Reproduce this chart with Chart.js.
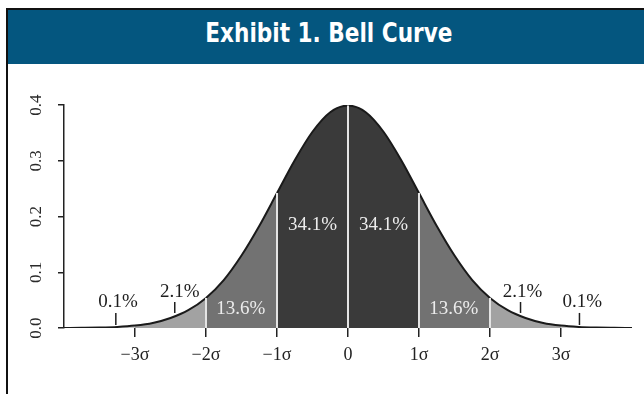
<!DOCTYPE html>
<html>
<head>
<meta charset="utf-8">
<script src="https://cdn.jsdelivr.net/npm/chart.js@4.4.0/dist/chart.umd.min.js"></script>
<style>
  html, body { margin: 0; padding: 0; background: #fff; width: 644px; height: 394px; overflow: hidden; }
  #frame { position: absolute; left: 6px; top: 8px; width: 2px; height: 386px; background: #111; }
  #header {
    position: absolute; left: 8px; top: 8px; width: 636px; height: 56px;
    background: #04567f; border-top: 2px solid #111; box-sizing: border-box;
    text-align: center; line-height: 54px;
  }
  #header span {
    display: inline-block; position: relative; left: 3px;
    color: #fff; font: bold 27px "Liberation Sans Narrow", "DejaVu Sans Condensed", sans-serif;
    transform: scaleX(0.89);
  }
  #wrap { position: absolute; left: 9px; top: 66px; width: 635px; height: 328px; }
</style>
</head>
<body>
<div id="frame"></div>
<div id="header"><span>Exhibit 1. Bell Curve</span></div>
<div id="wrap"><canvas id="BellChart"></canvas></div>
<script>
// curve, every quarter sigma
const sigmaX = [-4, -3.75, -3.5, -3.25, -3, -2.75, -2.5, -2.25, -2, -1.75, -1.5, -1.25, -1, -0.75, -0.5, -0.25,
    0, 0.25, 0.5, 0.75, 1, 1.25, 1.5, 1.75, 2, 2.25, 2.5, 2.75, 3, 3.25, 3.5, 3.75, 4];
const density = [0.0001, 0.0004, 0.0009, 0.002, 0.0044, 0.009, 0.018, 0.032, 0.054, 0.086, 0.130, 0.183, 0.242, 0.301, 0.352, 0.387,
    0.399, 0.387, 0.352, 0.301, 0.242, 0.183, 0.130, 0.086, 0.054, 0.032, 0.018, 0.009, 0.0044, 0.002, 0.0009, 0.0004, 0.0001];

const xTicks = [-3, -2, -1, 0, 1, 2, 3];
const xTickLabels = ['\u22123\u03c3', '\u22122\u03c3', '\u22121\u03c3', '0', '1\u03c3', '2\u03c3', '3\u03c3'];
const yTicks = [0, 0.1, 0.2, 0.3, 0.4];
const yTickLabels = ['0.0', '0.1', '0.2', '0.3', '0.4'];

// white lines between the bands
const dividerX = [-2, -1, 0, 1, 2];

// little pointer marks under the tail labels
const pointerX = [-3.27, -2.44, 2.43, 3.26];
const pointerLow = [0.0054, 0.027, 0.027, 0.0054];
const pointerHigh = [0.027, 0.0466, 0.0466, 0.027];

const pctLabels = ['0.1%', '2.1%', '13.6%', '34.1%', '34.1%', '13.6%', '2.1%', '0.1%'];
const pctX = [-3.24, -2.37, -1.51, -0.50, 0.50, 1.49, 2.46, 3.30];
const pctY = [0.047, 0.065, 0.034, 0.185, 0.185, 0.034, 0.065, 0.047];

const bandColors = ['#3a3a3a', '#727272', '#a2a2a2', '#c6c6c6'];

const curvePoints = sigmaX.map((x, i) => ({x: x, y: density[i]}));

let datasets = [];

dividerX.forEach(v => {
    datasets.push({
        data: [{x: v, y: 0}, {x: v, y: density[sigmaX.indexOf(v)]}],
        borderColor: '#e4e4e4',
        borderWidth: 2,
        pointRadius: 0,
        fill: false
    });
});

pointerX.forEach((v, i) => {
    datasets.push({
        data: [{x: v, y: pointerLow[i]}, {x: v, y: pointerHigh[i]}],
        borderColor: '#1e1e1e',
        borderWidth: 1.5,
        pointRadius: 0,
        fill: false
    });
});

datasets.push({
    data: curvePoints,
    borderColor: '#1a1a1a',
    borderWidth: 2,
    pointRadius: 0,
    cubicInterpolationMode: 'monotone',
    fill: 'origin',
    backgroundColor: bandColors[0],
    segment: {
        backgroundColor: ctx => {
            let m = Math.abs((ctx.p0.parsed.x + ctx.p1.parsed.x) / 2);
            if (m < 1) return bandColors[0];
            if (m < 2) return bandColors[1];
            if (m < 3) return bandColors[2];
            return bandColors[3];
        }
    }
});

const labelPlugin = {
    id: 'bellLabels',
    afterDatasetsDraw(chart) {
        const ctx = chart.ctx;
        const xs = chart.scales.x;
        const ys = chart.scales.y;
        ctx.save();
        ctx.textAlign = 'center';
        ctx.textBaseline = 'middle';
        ctx.font = '19px "Liberation Serif", "Times New Roman", serif';
        pctLabels.forEach((t, i) => {
            let inside = Math.abs(pctX[i]) < 2;
            ctx.fillStyle = inside ? '#ececec' : '#1e1e1e';
            ctx.fillText(t, xs.getPixelForValue(pctX[i]), ys.getPixelForValue(pctY[i]));
        });
        // rotated y tick labels
        ctx.fillStyle = '#2a2a2a';
        ctx.font = '17px "Liberation Serif", "Times New Roman", serif';
        yTicks.forEach((v, i) => {
            ctx.save();
            ctx.translate(28, ys.getPixelForValue(v));
            ctx.rotate(-Math.PI / 2);
            ctx.fillText(yTickLabels[i], 0, 0);
            ctx.restore();
        });
        ctx.restore();
    }
};

const config_bell = {
    type: 'line',
    data: {datasets: datasets},
    plugins: [labelPlugin],
    options: {
        animation: false,
        responsive: true,
        maintainAspectRatio: false,
        layout: {padding: {left: 0, right: 12, top: 39, bottom: 0}},
        plugins: {
            legend: {display: false},
            tooltip: {enabled: false}
        },
        scales: {
            x: {
                type: 'linear',
                min: -4,
                max: 4,
                afterBuildTicks: s => { s.ticks = xTicks.map(v => ({value: v})); },
                afterFit: s => { s.height = 66; },
                grid: {display: true, drawOnChartArea: false, tickLength: 9, color: '#222', lineWidth: 1.5},
                border: {display: false},
                ticks: {
                    padding: 7,
                    color: '#222',
                    font: {family: '"Liberation Serif", "Times New Roman", serif', size: 18},
                    callback: (value, i) => xTickLabels[i]
                }
            },
            y: {
                min: 0,
                max: 0.4,
                afterBuildTicks: s => { s.ticks = yTicks.map(v => ({value: v})); },
                afterFit: s => { s.width = 55; },
                grid: {display: true, drawOnChartArea: false, tickLength: 6, color: '#222', lineWidth: 1.5},
                border: {display: true, color: '#222', width: 1.5},
                ticks: {display: false}
            }
        }
    }
};

var BellChart = new Chart(document.getElementById('BellChart'), config_bell);
</script>
</body>
</html>
